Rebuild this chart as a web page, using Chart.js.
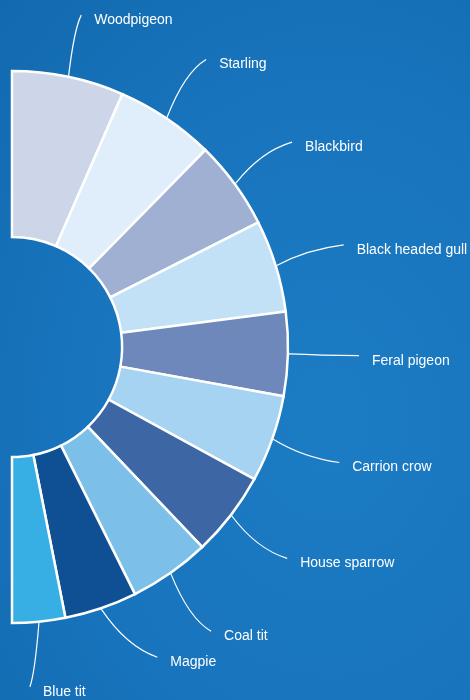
<!DOCTYPE html>
<html>
<head>
<meta charset="utf-8">
<script src="https://cdn.jsdelivr.net/npm/chart.js@4"></script>
<style>
  html, body { margin: 0; padding: 0; }
  body {
    width: 470px; height: 700px; overflow: hidden;
    background: radial-gradient(ellipse at 70% 60%, #1b7cc4 0%, #1874bd 55%, #126aae 100%);
  }
  #wrap { position: relative; width: 470px; height: 700px; }
</style>
</head>
<body>
<div id="wrap"><canvas id="birds" width="470" height="700"></canvas></div>
<script>
// share of each bird (half circle = 100)
const birds = ["Woodpigeon", "Starling", "Blackbird", "Black headed gull", "Feral pigeon",
  "Carrion crow", "House sparrow", "Coal tit", "Magpie", "Blue tit"];
const shares = [13.1, 11.6, 10.4, 10.8, 9.8, 10.2, 9.9, 9.5, 8.5, 6.2];
const colours = ["#ccd6e8", "#dfeefa", "#9fb0d3", "#c3e1f6", "#6f88bc",
  "#a6d3f1", "#3d66a4", "#7cc0ea", "#0f4f93", "#37afe4"];

// leader lines: curve from mid of slice out to the label
const leaderLines = {
  id: "leaderLines",
  afterDatasetsDraw(chart) {
    const ctx = chart.ctx;
    const arcs = chart.getDatasetMeta(0).data;
    ctx.save();
    ctx.strokeStyle = "#ffffff";
    ctx.fillStyle = "#ffffff";
    ctx.lineWidth = 1.2;
    ctx.font = "14px 'Liberation Sans', Arial, sans-serif";
    ctx.textBaseline = "middle";
    arcs.forEach((arc, i) => {
      const mid = (arc.startAngle + arc.endAngle) / 2;
      const r = arc.outerRadius + 1;
      const sx = arc.x + Math.cos(mid) * r;
      const sy = arc.y + Math.sin(mid) * r;
      const len = i === 0 ? 62 : 70;
      let ex = sx + Math.cos(mid) * len;
      let ey = sy + Math.sin(mid) * len;
      // last two labels are pushed round a bit
      if (i === birds.length - 2) { ex = sx + 56; ey = sy + 48; }
      if (i === birds.length - 1) { ex = sx - 9; ey = sy + 64; }
      const cx = sx + (ex - sx) * 0.45;
      const cy = sy + (ey - sy) * 0.78;
      ctx.beginPath();
      ctx.moveTo(sx, sy);
      ctx.quadraticCurveTo(cx, cy, ex, ey);
      ctx.stroke();
      ctx.fillText(birds[i], ex + 13, ey + 5);
    });
    ctx.restore();
  }
};

new Chart(document.getElementById("birds").getContext("2d"), {
  type: "doughnut",
  data: {
    labels: birds,
    datasets: [{
      data: shares,
      backgroundColor: colours,
      borderColor: "#ffffff",
      borderWidth: 2.5,
      borderJoinStyle: "miter"
    }]
  },
  options: {
    responsive: false,
    animation: false,
    rotation: 0,
    circumference: 180,
    radius: 276,
    cutout: "39.9%",
    layout: { padding: { left: 0, right: 170, top: 0, bottom: 6 } },
    plugins: {
      legend: { display: false },
      tooltip: { enabled: false }
    }
  },
  plugins: [leaderLines]
});
</script>
</body>
</html>
